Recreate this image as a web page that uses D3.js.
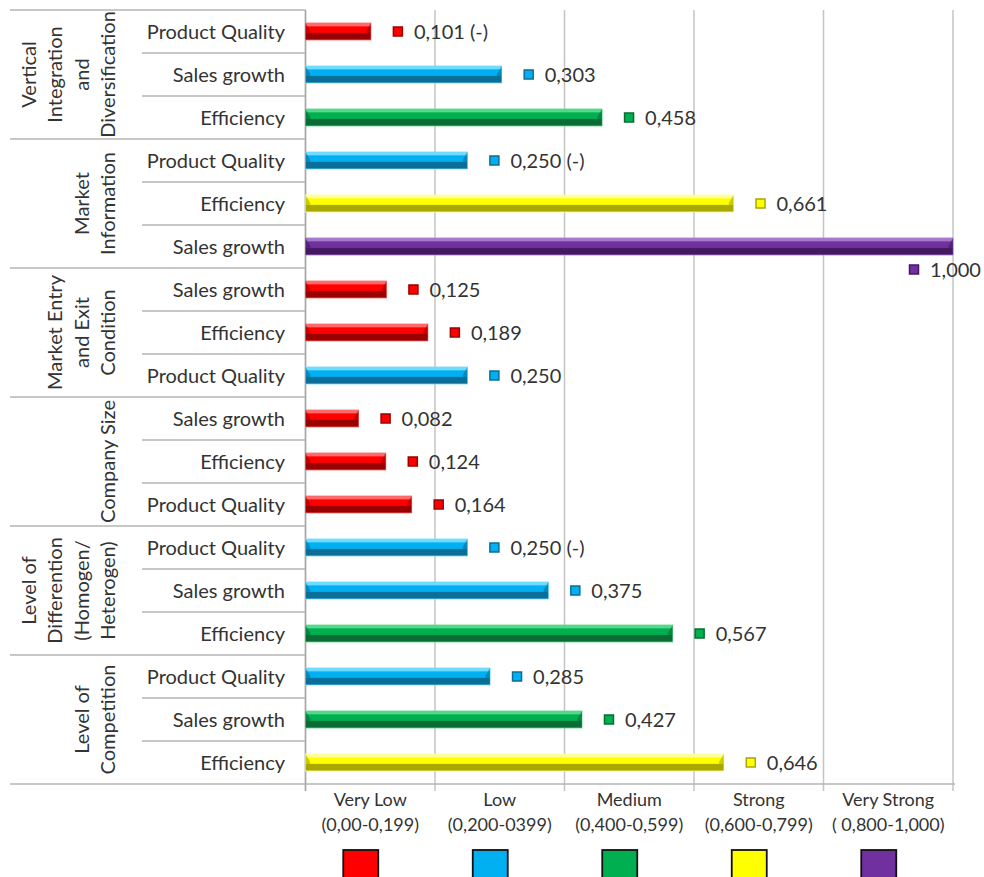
<!DOCTYPE html>
<html>
<head>
<meta charset="utf-8">
<script src="https://cdn.jsdelivr.net/npm/d3@7"></script>
<style>
html,body{margin:0;padding:0;background:#fff;}
svg{display:block;font-family:Lato,"Open Sans",sans-serif;}
</style>
</head>
<body>
<svg id="chart" width="984" height="877"></svg>
<script>
// ---- data ----
const groupLabels = [
  ["Vertical", "Integration", "and", "Diversification"],
  ["Market", "Information"],
  ["Market Entry", "and Exit", "Condition"],
  ["Company Size"],
  ["Level of", "Differention", "(Homogen/", "Heterogen)"],
  ["Level of", "Competition"]
];
const categories = [
  "Product Quality", "Sales growth", "Efficiency",
  "Product Quality", "Efficiency", "Sales growth",
  "Sales growth", "Efficiency", "Product Quality",
  "Sales growth", "Efficiency", "Product Quality",
  "Product Quality", "Sales growth", "Efficiency",
  "Product Quality", "Sales growth", "Efficiency"
];
const values = [
  0.101, 0.303, 0.458,
  0.250, 0.661, 1.000,
  0.125, 0.189, 0.250,
  0.082, 0.124, 0.164,
  0.250, 0.375, 0.567,
  0.285, 0.427, 0.646
];
const suffixes = [
  " (-)", "", "",
  " (-)", "", "",
  "", "", "",
  "", "", "",
  " (-)", "", "",
  "", "", ""
];
const rowsPerGroup = 3;
const levelNames = ["Very Low", "Low", "Medium", "Strong", "Very Strong"];
const levelRanges = ["(0,00-0,199)", "(0,200-0399)", "(0,400-0,599)", "(0,600-0,799)", "( 0,800-1,000)"];
const levelThresholds = [0.2, 0.4, 0.6, 0.8];
const tickValues = [0, 0.2, 0.4, 0.6, 0.8, 1.0];

// ---- style ----
const levelColors = ["#ff0000", "#00b0f0", "#00b050", "#ffff00", "#7030a0"];
const levelLight  = ["#ff6a6a", "#6fdcff", "#55d88a", "#ffff99", "#a678cc"];
const levelDark   = ["#9a0000", "#0a6e98", "#0a6b35", "#a8a800", "#45195f"];

const svg = d3.select("#chart");
const plotTop = 10, plotBottom = 784;
const x = d3.scaleLinear().domain([0, 1]).range([305.5, 953]);
const y = d3.scaleBand().domain(d3.range(values.length)).range([plotTop, plotBottom]);
const colorIdx = d3.scaleThreshold().domain(levelThresholds).range(d3.range(5));
const fmt = v => d3.format(".3f")(v).replace(".", ",");
const textColor = "#333333";

// gradients
const defs = svg.append("defs");
levelColors.forEach((c, i) => {
  const g = defs.append("linearGradient").attr("id", "g" + i)
    .attr("x1", 0).attr("y1", 0).attr("x2", 0).attr("y2", 1);
  g.append("stop").attr("offset", "0%").attr("stop-color", levelLight[i]);
  g.append("stop").attr("offset", "18%").attr("stop-color", levelLight[i]);
  g.append("stop").attr("offset", "22%").attr("stop-color", c);
  g.append("stop").attr("offset", "55%").attr("stop-color", c);
  g.append("stop").attr("offset", "62%").attr("stop-color", levelDark[i]);
  g.append("stop").attr("offset", "100%").attr("stop-color", levelDark[i]);
});

// gridlines with ticks below axis
svg.append("g").selectAll("line").data(tickValues).join("line")
  .attr("x1", d => x(d)).attr("x2", d => x(d))
  .attr("y1", plotTop).attr("y2", plotBottom + 7)
  .attr("stroke", "#c4c4c4").attr("stroke-width", 1.5);

// left panel lines
const lineColor = "#b4b4b4";
const nGroups = groupLabels.length;
svg.append("g").selectAll("line").data(d3.range(nGroups)).join("line")
  .attr("x1", 10).attr("x2", x(0))
  .attr("y1", i => y(i * rowsPerGroup)).attr("y2", i => y(i * rowsPerGroup))
  .attr("stroke", lineColor).attr("stroke-width", 1.5);
svg.append("line").attr("x1", 10).attr("x2", x(1) + 2)
  .attr("y1", plotBottom).attr("y2", plotBottom)
  .attr("stroke", lineColor).attr("stroke-width", 1.5);
const catSeps = d3.range(values.length).filter(i => i % rowsPerGroup !== 0);
svg.append("g").selectAll("line").data(catSeps).join("line")
  .attr("x1", 142).attr("x2", x(0))
  .attr("y1", i => y(i)).attr("y2", i => y(i))
  .attr("stroke", lineColor).attr("stroke-width", 1.5);
svg.append("line").attr("x1", x(0)).attr("x2", x(0))
  .attr("y1", plotTop).attr("y2", plotBottom + 7)
  .attr("stroke", "#a8a8a8").attr("stroke-width", 1.5);

// category labels
svg.append("g").selectAll("text").data(categories).join("text")
  .attr("x", 285).attr("y", (d, i) => y(i) + y.bandwidth() / 2)
  .attr("dy", "0.35em").attr("text-anchor", "end")
  .attr("font-size", 20).attr("fill", textColor).text(d => d);

// group labels (rotated)
const gl = svg.append("g");
groupLabels.forEach((lines, gi) => {
  const cy = (y(gi * rowsPerGroup) + y(gi * rowsPerGroup + rowsPerGroup - 1) + y.bandwidth()) / 2;
  const n = lines.length;
  lines.forEach((t, li) => {
    const cx = 108 - (n - 1 - li) * 26.5;
    gl.append("text")
      .attr("transform", `translate(${cx},${cy}) rotate(-90)`)
      .attr("text-anchor", "middle").attr("dy", "0.35em")
      .attr("font-size", 20).attr("fill", textColor).text(t);
  });
});

// bars
const barH = 17;
const bars = svg.append("g").selectAll("g").data(values).join("g");
bars.append("rect")
  .attr("x", x(0)).attr("y", (d, i) => y(i) + y.bandwidth() / 2 - barH / 2)
  .attr("width", d => x(d) - x(0)).attr("height", barH)
  .attr("fill", d => `url(#g${colorIdx(d)})`)
  .attr("stroke", d => levelLight[colorIdx(d)]).attr("stroke-width", 0.8);
bars.append("path")
  .attr("d", (d, i) => {
    const cy = y(i) + y.bandwidth() / 2, x1 = x(d);
    return `M${x1},${cy - barH / 2}L${x1 - 5},${cy}L${x1},${cy + barH / 2}Z`;
  })
  .attr("fill", d => levelDark[colorIdx(d)]).attr("opacity", 0.6);
bars.append("path")
  .attr("d", (d, i) => {
    const cy = y(i) + y.bandwidth() / 2, x0 = x(0);
    return `M${x0},${cy - barH / 2}L${x0 + 5},${cy}L${x0},${cy + barH / 2}Z`;
  })
  .attr("fill", d => levelDark[colorIdx(d)]).attr("opacity", 0.6);

// value labels with markers
const labels = svg.append("g").selectAll("g").data(values).join("g")
  .attr("transform", (d, i) => {
    const cy = y(i) + y.bandwidth() / 2;
    const overflow = x(d) + 110 > 984;
    return overflow ? `translate(${x(d) - 39},${cy + 23})` : `translate(${x(d) + 27},${cy})`;
  });
labels.append("rect")
  .attr("x", -4.5).attr("y", -4.5).attr("width", 9).attr("height", 9)
  .attr("fill", d => levelColors[colorIdx(d)])
  .attr("stroke", d => levelDark[colorIdx(d)]).attr("stroke-width", 1.5);
labels.append("text")
  .attr("x", 16).attr("dy", "0.35em")
  .attr("font-size", 20).attr("fill", textColor)
  .text((d, i) => fmt(d) + suffixes[i]);

// x level labels
const mids = d3.range(levelNames.length).map(i => (x(tickValues[i]) + x(tickValues[i + 1])) / 2);
const xl = svg.append("g").selectAll("text").data(levelNames).join("text")
  .attr("x", (d, i) => mids[i]).attr("y", 806)
  .attr("text-anchor", "middle").attr("font-size", 18).attr("fill", textColor);
xl.append("tspan").attr("x", (d, i) => mids[i]).text(d => d);
xl.append("tspan").attr("x", (d, i) => mids[i]).attr("dy", 25).text((d, i) => levelRanges[i]);

// legend squares
svg.append("g").selectAll("rect").data(levelColors).join("rect")
  .attr("x", (d, i) => mids[i] - 10 - 17).attr("y", 850)
  .attr("width", 35).attr("height", 30)
  .attr("fill", d => d).attr("stroke", "#111").attr("stroke-width", 1.8);
</script>
</body>
</html>
